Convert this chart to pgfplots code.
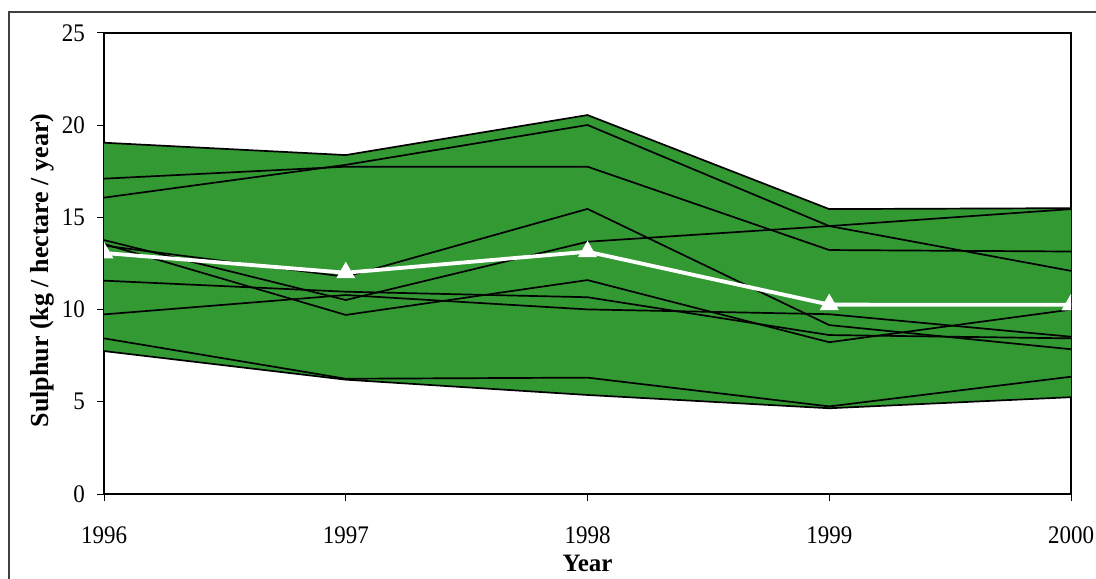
\documentclass[border=0pt]{standalone}
\usepackage{fontspec}
\setmainfont{Liberation Serif}
\usepackage{pgfplots}
\usepackage{pgfplotstable}
\pgfplotsset{compat=1.18}
\usepgfplotslibrary{fillbetween}
\definecolor{areagreen}{RGB}{51,153,51}

% Annual sulphur deposition (kg / hectare / year) at ten sites, with the mean
\pgfplotstableread{
year s1    s2    s3    s4    s5    s6    s7    s8    s9   s10  mean
1996 19.05 17.10 16.07 13.77 13.56 13.47 11.57 9.74 8.44 7.75 13.07
1997 18.38 17.75 17.85 10.52 9.71  11.78 10.97 10.79 6.25 6.20 12.00
1998 20.55 17.75 20.01 13.68 11.60 15.46 10.67 10.01 6.31 5.37 13.14
1999 15.45 13.23 14.53 14.53 8.23  9.16  8.62  9.75 4.75 4.65 10.27
2000 15.50 13.15 12.10 15.45 10.00 7.85  8.44  8.53 6.36 5.25 10.26
}\sulphur

\begin{document}
\begin{tikzpicture}[font=\fontsize{11.5pt}{13.5pt}\selectfont]
\begin{axis}[
  at={(52pt,42pt)}, anchor=south west,
  scale only axis, width=483.5pt, height=230.5pt,
  xmin=1996, xmax=2000, ymin=0, ymax=25,
  xtick={1996,1997,1998,1999,2000},
  ytick={0,5,...,25},
  xticklabel style={/pgf/number format/1000 sep={}, yshift=-9pt, yscale=1.1},
  yticklabel style={xshift=-2.5pt, yscale=1.1},
  /pgf/number format/assume math mode=true,
  tick align=outside, tick pos=left,
  major tick length=3.5pt,
  tick style={black, line width=0.5pt},
  axis line style={black, line width=0.6pt},
  xlabel={\bfseries Year},
  ylabel={\bfseries Sulphur (kg / hectare / year)},
  xlabel style={font=\fontsize{12.5pt}{14pt}\selectfont, yshift=1.5pt},
  ylabel style={font=\fontsize{13pt}{15pt}\selectfont, yshift=-3pt, xshift=-3.5pt},
  clip marker paths=true,
]
\addplot[name path=upper, draw=none, forget plot] table[x=year,y=s1]{\sulphur};
\addplot[name path=lower, draw=none, forget plot] table[x=year,y=s10]{\sulphur};
\addplot[areagreen, draw=none] fill between[of=upper and lower];
\pgfplotsinvokeforeach{s1,s2,s3,s4,s5,s6,s7,s8,s9,s10}{
  \addplot[black, line width=0.85pt, mark=none] table[x=year,y=#1]{\sulphur};
}
\addplot[white, line width=1.9pt, mark=triangle*, mark size=5pt,
  mark options={fill=white, draw=white, line width=0.5pt}] table[x=year,y=mean]{\sulphur};
\end{axis}
% outer chart frame
\draw[line width=0.6pt, black!75] (4.5pt,-10pt) -- (4.5pt,283pt) -- (560pt,283pt);
\pgfresetboundingbox
\path[use as bounding box] (0pt,0pt) rectangle (548pt,289pt);
\end{tikzpicture}
\end{document}
